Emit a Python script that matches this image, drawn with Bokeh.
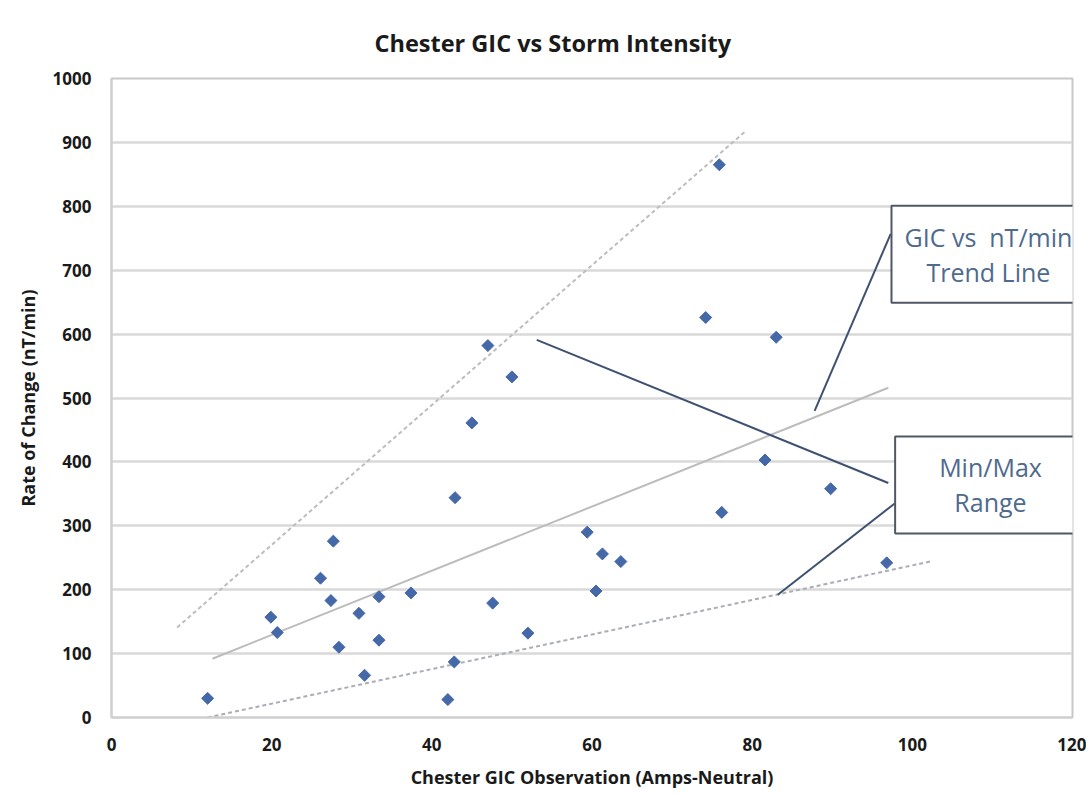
import math
from bokeh.plotting import figure
from bokeh.models import Label, FixedTicker, Range1d, ColumnDataSource
from bokeh.embed import file_html
from bokeh.resources import INLINE

# ---- data ----
gic_amps = [12.0, 19.9, 20.7, 26.1, 27.7, 27.4, 28.4, 30.9, 31.6, 33.4, 33.4,
            37.4, 42.0, 42.8, 42.9, 45.0, 47.0, 47.6, 50.0, 52.0, 59.4, 60.5,
            61.3, 63.6, 74.2, 75.9, 76.2, 81.6, 83.0, 89.8, 96.8]
rate_nt_min = [30, 157, 133, 218, 276, 183, 110, 163, 66, 189, 121,
               195, 28, 87, 344, 461, 582, 179, 533, 132, 290, 198,
               256, 244, 626, 865, 321, 403, 595, 358, 242]

# trend lines (start/end points)
max_line_x = [8.2, 79.3]
max_line_y = [141, 919]
trend_line_x = [12.6, 97.0]
trend_line_y = [92, 516]
min_line_x = [12.0, 102.2]
min_line_y = [0, 244]

# callout pointer segments
callout_x0 = [97.3, 97.0, 97.8]
callout_y0 = [757, 367, 335]
callout_x1 = [87.8, 53.1, 83.2]
callout_y1 = [480, 591, 192]

x_ticks = [0, 20, 40, 60, 80, 100, 120]
y_ticks = [0, 100, 200, 300, 400, 500, 600, 700, 800, 900, 1000]

FONT = "Open Sans"

p = figure(width=1086, height=794, output_backend="svg", toolbar_location=None,
           x_range=Range1d(0, 120), y_range=Range1d(0, 1000),
           min_border_left=111, min_border_right=14, min_border_top=78,
           min_border_bottom=77,
           title="Chester GIC vs Storm Intensity")

p.title.text_font = FONT
p.title.text_font_style = "bold"
p.title.text_font_size = "23.5px"
p.title.text_color = "#1a1a1a"
p.title.align = "left"
p.title.offset = 263
p.title.standoff = 39

p.background_fill_color = "white"
p.border_fill_color = "white"
p.outline_line_color = "#c8c8c8"
p.outline_line_width = 2

# axes
p.xaxis.ticker = FixedTicker(ticks=x_ticks)
p.yaxis.ticker = FixedTicker(ticks=y_ticks)
for ax in (p.xaxis, p.yaxis):
    ax.major_tick_line_color = None
    ax.minor_tick_line_color = None
    ax.major_tick_out = 0
    ax.major_tick_in = 0
    ax.axis_line_color = "#d0d0d0"
    ax.axis_line_width = 2
    ax.major_label_text_font = FONT
    ax.major_label_text_font_style = "bold"
    ax.major_label_text_font_size = "17px"
    ax.major_label_text_color = "#1a1a1a"
    ax.axis_label_text_font = FONT
    ax.axis_label_text_font_style = "bold"
    ax.axis_label_text_font_size = "18px"
    ax.axis_label_text_color = "#1a1a1a"

p.xaxis.axis_label = "Chester GIC Observation (Amps-Neutral)"
p.yaxis.axis_label = "Rate of Change (nT/min)"
p.xaxis.major_label_standoff = 20
p.xaxis.axis_label_standoff = 11
p.yaxis.major_label_standoff = 20
p.yaxis.axis_label_standoff = 10

p.xgrid.grid_line_color = None
p.ygrid.grid_line_color = "#d9d9d9"
p.ygrid.grid_line_width = 2.5

# trend lines
p.line(max_line_x, max_line_y, line_color="#bdbdbd", line_width=2, line_dash="4 3")
p.line(trend_line_x, trend_line_y, line_color="#bcbcbc", line_width=2)
p.line(min_line_x, min_line_y, line_color="#a9adb5", line_width=2, line_dash="4 3")

# points (diamonds = squares rotated 45 degrees)
src = ColumnDataSource(dict(x=gic_amps, y=rate_nt_min))
p.scatter("x", "y", source=src, marker="square", size=8.5, angle=math.pi / 4,
          fill_color="#4468a8", line_color="#4468a8")

# callout pointers
p.segment(callout_x0, callout_y0, callout_x1, callout_y1,
          line_color="#3e5170", line_width=2)

# callout boxes (bordered labels); padding = (left, right, top, bottom)
txt_color = "#4e6a8e"
box_line = "#4f5864"
p.add_layout(Label(x=109.5, y=725, text="GIC vs\u00a0 nT/min\nTrend Line",
                   text_align="center", text_baseline="middle", text_font=FONT,
                   text_font_size="25px", text_color=txt_color,
                   text_line_height=1.03,
                   background_fill_color="white", background_fill_alpha=1.0,
                   border_line_color=box_line, border_line_width=2,
                   padding=(13, 13, 14, 14)))
p.add_layout(Label(x=109.7, y=364, text="Min/Max\nRange",
                   text_align="center", text_baseline="middle", text_font=FONT,
                   text_font_size="25px", text_color=txt_color,
                   text_line_height=1.03,
                   background_fill_color="white", background_fill_alpha=1.0,
                   border_line_color=box_line, border_line_width=2,
                   padding=(44, 43, 14, 14)))

open("out.html", "w").write(file_html(p, INLINE))
